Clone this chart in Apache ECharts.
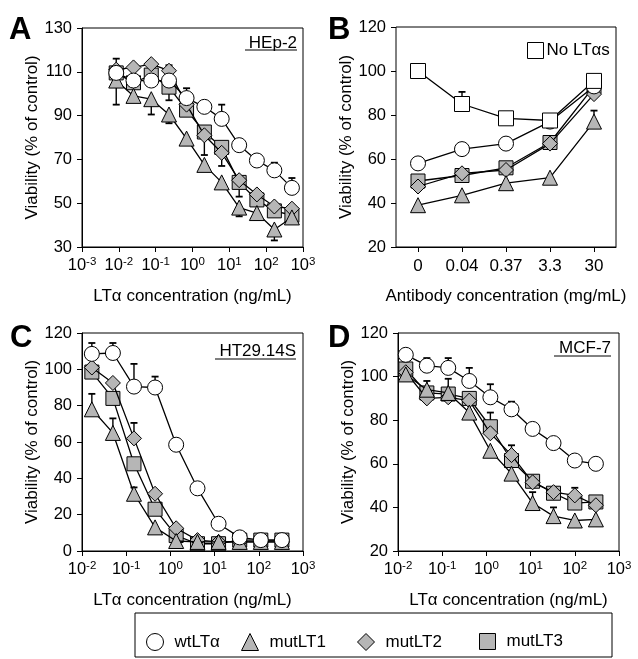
<!DOCTYPE html>
<html><head><meta charset="utf-8">
<script src="https://cdn.jsdelivr.net/npm/echarts@6/dist/echarts.min.js"></script>
<style>html,body{margin:0;padding:0;background:#fff}#c{width:638px;height:659px}</style>
</head><body><div id="c"></div>
<script>
// ---------- Panel A (HEp-2) ----------
const xA = [0.0085, 0.025, 0.076, 0.23, 0.69, 2.1, 6.2, 18.5, 56, 167, 500];
const wtA = [109.5, 106, 106, 106, 98, 94, 88.5, 76.5, 69.5, 65, 57];
const mut1A = [106, 99, 97.5, 90.5, 79.5, 67.5, 59.5, 48, 45.5, 38, 43.5];
const mut2A = [111, 112, 113.5, 110.5, 95, 81, 73, 60.5, 54, 48.5, 47.5];
const mut3A = [109.5, 105, 108.5, 103, 92.5, 82.5, 75.5, 59.5, 51.5, 46.5, 44.5];
const errA = [[0.0085,109.5,116],[0.0085,106,95],[0.076,97.5,90.5],[0.23,106,113],[0.23,90.5,86.5],
  [0.23,103,97],[0.69,98,102.5],[6.2,88.5,95],[2.1,81,72],[6.2,73,67],[18.5,60.5,53],[18.5,48,44],
  [56,45.5,42.5],[167,65,68.5],[167,38,33],[500,57,61.5]];
const yTicksA = [30, 50, 70, 90, 110, 130];

// ---------- Panel B (antibody) ----------
const catB = ['0', '0.04', '0.37', '3.3', '30'];
const noLTB = [100, 85, 78.5, 77.5, 95.5];
const wtB = [58, 64.5, 67, 77, 93];
const mut1B = [39, 43.5, 49, 51.5, 77];
const mut2B = [47.5, 53.5, 55, 67, 89.5];
const mut3B = [50, 52.5, 56, 67.5, 93];
const errB = [['0.04',85,90.5],['30',77,82]];

// ---------- Panel C (HT29.14S) ----------
const xC = [0.0167, 0.05, 0.15, 0.45, 1.35, 4.1, 12.3, 37, 111, 333];
const wtC = [108.5, 109, 90.5, 90, 58.5, 34.5, 15, 7.5, 6, 6];
const mut1C = [78, 65, 31.5, 13, 5.5, 5, 5, 5, 5, 5];
const mut2C = [101, 92.5, 62, 31.5, 12.5, 6, 5, 5, 5, 5];
const mut3C = [98.5, 84, 48, 23, 8.5, 4, 4, 6, 6, 6];
const errC = [[0.0167,108.5,114.5],[0.05,109,114.5],[0.15,90.5,103],[0.45,90,96],[0.0167,78,86.5],
  [0.05,65,73],[0.15,62,70.5],[0.15,31.5,35]];

// ---------- Panel D (MCF-7) ----------
const xD = [0.015, 0.045, 0.137, 0.41, 1.23, 3.7, 11.1, 33, 100, 300];
const wtD = [110, 105, 104, 98, 90.5, 85, 76, 69.5, 61.5, 60];
const mut1D = [101, 94, 92.5, 83.5, 66, 55.5, 42, 36, 34, 34.5];
const mut2D = [102, 90, 90.5, 89, 74, 64, 51.5, 47, 45.5, 41];
const mut3D = [103.5, 92.5, 92, 90, 77, 61.5, 52, 46.5, 42, 42.5];
const errD = [[0.045,105,108.5],[0.137,104,108.5],[0.41,98,104],[1.23,90.5,96.5],[3.7,85,88.5],
  [0.045,94,98],[0.137,92.5,99],[1.23,77,83.5],[3.7,64,68.5],[11.1,42,47],[33,36,40],[100,45.5,49]];

const names = {wt:'wtLTα', m1:'mutLT1', m2:'mutLT2', m3:'mutLT3', no:'No LTαs'};
const FONT = "'Liberation Sans', Arial, sans-serif";
const GRAY = '#b6b6b6';

const chart = echarts.init(document.getElementById('c'), null, {renderer:'canvas'});

function zip(xs, ys){ return xs.map((x,i)=>[x, ys[i]]); }
const sty = {
  wt:{symbol:'circle', size:15, fill:'#fff'},
  m1:{symbol:'triangle', size:15, fill:GRAY},
  m2:{symbol:'diamond', size:15, fill:GRAY},
  m3:{symbol:'rect', size:14, fill:GRAY},
  no:{symbol:'rect', size:15, fill:'#fff'}
};
function lineS(key, data, idx, z){
  const s = sty[key];
  return {type:'line', name:names[key], xAxisIndex:idx, yAxisIndex:idx, data:data,
    symbol:s.symbol, symbolSize:s.size, showSymbol:true, z:z, animation:false,
    lineStyle:{color:'#000', width:1.3}, itemStyle:{color:s.fill, borderColor:'#000', borderWidth:1},
    emphasis:{disabled:true}};
}
function errS(data, idx){
  return {type:'custom', xAxisIndex:idx, yAxisIndex:idx, data:data, z:1, animation:false, silent:true,
    encode:{x:0, y:[1,2]},
    renderItem:function(params, api){
      const x = api.value(0), a = api.value(1), b = api.value(2);
      const p1 = api.coord([x,a]), p2 = api.coord([x,b]);
      return {type:'group', children:[
        {type:'line', shape:{x1:p1[0],y1:p1[1],x2:p2[0],y2:p2[1]}, style:{stroke:'#000', lineWidth:1.4}},
        {type:'line', shape:{x1:p2[0]-3.5,y1:p2[1],x2:p2[0]+3.5,y2:p2[1]}, style:{stroke:'#000', lineWidth:1.8}}
      ]};
    }};
}

const axisCommon = {
  axisLine:{onZero:false, lineStyle:{color:'#000', width:1}},
  axisTick:{show:true, inside:false, length:5, lineStyle:{color:'#000', width:1}},
  splitLine:{show:false},
  nameTextStyle:{color:'#000', fontSize:17, fontFamily:FONT}
};
function logX(idx, min, max){
  return Object.assign({}, axisCommon, {type:'log', logBase:10, gridIndex:idx, min:min, max:max,
    name:'LTα concentration (ng/mL)', nameLocation:'middle', nameGap:41,
    axisLabel:{color:'#000', fontSize:16, fontFamily:FONT, margin:9,
      formatter:function(v){ const e = Math.round(Math.log10(v)); return '{b|10}{s|' + e + '}'; },
      rich:{b:{fontSize:16.5, fontFamily:FONT, color:'#000', lineHeight:18, verticalAlign:'bottom'},
            s:{fontSize:11.5, fontFamily:FONT, color:'#000', lineHeight:10, verticalAlign:'top'}}},
    minorTick:{show:false}});
}
function valY(idx, min, max, ticks){
  return Object.assign({}, axisCommon, {type:'value', gridIndex:idx, min:min, max:max,
    name:'Viability (% of control)', nameLocation:'middle', nameGap:41,
    axisLabel:{color:'#000', fontSize:16.5, fontFamily:FONT, margin:10, customValues:ticks},
    axisTick:Object.assign({}, axisCommon.axisTick, {customValues:ticks})});
}
const gridCommon = {show:true, borderColor:'#000', borderWidth:1, backgroundColor:'transparent', containLabel:false};
const legText = {fontSize:17, fontFamily:FONT, color:'#000', padding:[0,0,0,6]};

const option = {
  backgroundColor:'#fff',
  textStyle:{fontFamily:FONT, color:'#000'},
  grid:[
    Object.assign({left:82, top:28, width:221, height:219}, gridCommon),
    Object.assign({left:396, top:27, width:220, height:220}, gridCommon),
    Object.assign({left:82, top:333, width:221, height:218}, gridCommon),
    Object.assign({left:398, top:333, width:221, height:218}, gridCommon)
  ],
  xAxis:[
    logX(0, 0.001, 1000),
    Object.assign({}, axisCommon, {type:'category', gridIndex:1, data:catB, boundaryGap:true,
      name:'Antibody concentration (mg/mL)', nameLocation:'middle', nameGap:41,
      axisTick:Object.assign({}, axisCommon.axisTick, {alignWithLabel:true}),
      axisLabel:{color:'#000', fontSize:17, fontFamily:FONT, margin:11, interval:0}}),
    logX(2, 0.01, 1000),
    logX(3, 0.01, 1000)
  ],
  yAxis:[
    valY(0, 30, 130, yTicksA),
    valY(1, 20, 120, [20,40,60,80,100,120]),
    valY(2, 0, 120, [0,20,40,60,80,100,120]),
    valY(3, 20, 120, [20,40,60,80,100,120])
  ],
  legend:[
    {data:[{name:names.wt, icon:'circle', itemStyle:{color:'#fff', borderColor:'#000', borderWidth:1}}],
      left:141, top:628, itemWidth:17, itemHeight:17, textStyle:legText, selectedMode:false},
    {data:[{name:names.m1, icon:'triangle', itemStyle:{color:GRAY, borderColor:'#000', borderWidth:1}}],
      left:236, top:628, itemWidth:17, itemHeight:17, textStyle:legText, selectedMode:false},
    {data:[{name:names.m2, icon:'diamond', itemStyle:{color:GRAY, borderColor:'#000', borderWidth:1}}],
      left:352, top:628, itemWidth:17, itemHeight:17, textStyle:legText, selectedMode:false},
    {data:[{name:names.m3, icon:'rect', itemStyle:{color:GRAY, borderColor:'#000', borderWidth:1}}],
      left:474, top:628, itemWidth:16, itemHeight:16, textStyle:legText, selectedMode:false},
    {data:[{name:names.no, icon:'rect', itemStyle:{color:'#fff', borderColor:'#000', borderWidth:1}}],
      left:522, top:37, itemWidth:16, itemHeight:16, textStyle:{fontSize:17, fontFamily:FONT, color:'#000', padding:[0,0,0,-2]}, selectedMode:false}
  ],
  graphic:[
    {type:'text', left:9, top:15, style:{text:'A', font:"bold 31px 'Liberation Sans', Arial", fill:'#000'}},
    {type:'text', left:328, top:15, style:{text:'B', font:"bold 31px 'Liberation Sans', Arial", fill:'#000'}},
    {type:'text', left:10, top:323, style:{text:'C', font:"bold 31px 'Liberation Sans', Arial", fill:'#000'}},
    {type:'text', left:328, top:323, style:{text:'D', font:"bold 31px 'Liberation Sans', Arial", fill:'#000'}},
    {type:'text', right:341, top:35, style:{text:'HEp-2', font:"17px 'Liberation Sans', Arial", fill:'#000'}},
    {type:'line', shape:{x1:245, y1:50, x2:297, y2:50}, style:{stroke:'#000', lineWidth:1}},
    {type:'text', right:342, top:343, style:{text:'HT29.14S', font:"17px 'Liberation Sans', Arial", fill:'#000'}},
    {type:'line', shape:{x1:215, y1:359, x2:296, y2:359}, style:{stroke:'#000', lineWidth:1}},
    {type:'text', right:27, top:340, style:{text:'MCF-7', font:"17px 'Liberation Sans', Arial", fill:'#000'}},
    {type:'line', shape:{x1:554, y1:356, x2:611, y2:356}, style:{stroke:'#000', lineWidth:1}},
    {type:'rect', shape:{x:135, y:613, width:477, height:44}, style:{fill:'none', stroke:'#000', lineWidth:1}}
  ],
  series:[
    errS(errA,0), lineS('m3', zip(xA,mut3A),0,2), lineS('m2', zip(xA,mut2A),0,3), lineS('m1', zip(xA,mut1A),0,4), lineS('wt', zip(xA,wtA),0,5),
    errS(errB,1), lineS('m3', mut3B,1,2), lineS('m2', mut2B,1,3), lineS('m1', mut1B,1,4), lineS('wt', wtB,1,5), lineS('no', noLTB,1,6),
    errS(errC,2), lineS('m3', zip(xC,mut3C),2,2), lineS('m2', zip(xC,mut2C),2,3), lineS('m1', zip(xC,mut1C),2,4), lineS('wt', zip(xC,wtC),2,5),
    errS(errD,3), lineS('m3', zip(xD,mut3D),3,2), lineS('m2', zip(xD,mut2D),3,3), lineS('m1', zip(xD,mut1D),3,4), lineS('wt', zip(xD,wtD),3,5)
  ]
};
chart.setOption(option);
</script></body></html>
